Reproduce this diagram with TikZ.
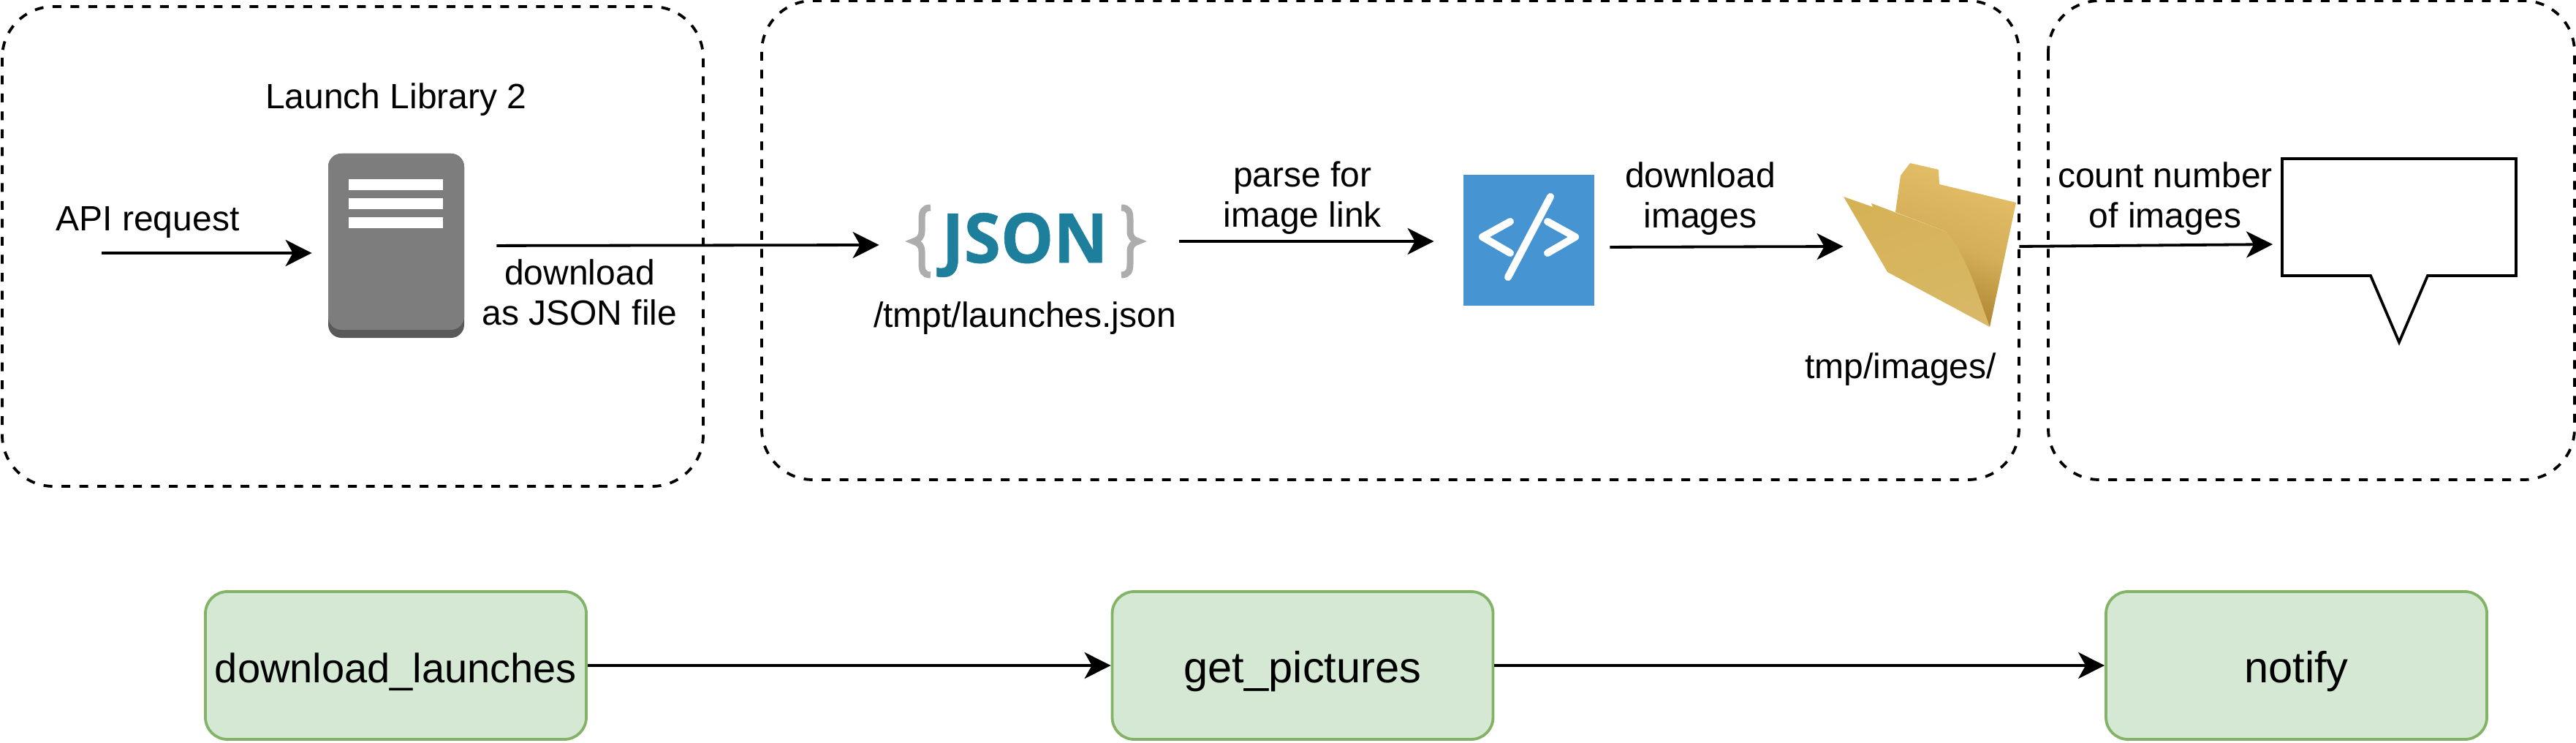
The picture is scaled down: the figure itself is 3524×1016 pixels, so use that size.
\documentclass[tikz,border=0pt]{standalone}
\usepackage{fontspec}
\setmainfont{Liberation Sans}
\newfontfamily\logofont[FakeStretch = 0.97, FakeBold = 0.6]{Open Sans}
\usepackage{tikz}
\usetikzlibrary{calc, arrows.meta, shapes.callouts}

\definecolor{serverface}{HTML}{7D7D7D}
\definecolor{serverbase}{HTML}{595959}
\definecolor{jsonblue}{HTML}{1D7F9C}
\definecolor{jsongrey}{HTML}{ADADAD}
\definecolor{codeblue}{HTML}{4695D2}
\definecolor{taskfill}{HTML}{D5E8D4}
\definecolor{taskline}{HTML}{82B366}
\definecolor{foldertop}{HTML}{E4C068}
\definecolor{foldermid}{HTML}{D4AE58}
\definecolor{folderdark}{HTML}{A87F2E}
\definecolor{flapleft}{HTML}{D6B257}
\definecolor{flapright}{HTML}{D8B866}

\tikzset{
	flow/.style = {line width = 1.9pt, -{Stealth[length = 18pt, width = 18pt, inset = 5pt]}},
	group/.style = {draw, line width = 1.9pt, dash pattern = on 6pt off 6.25pt, rounded corners = 35pt},
	task/.style = {draw = taskline, fill = taskfill, line width = 1.9pt, rounded corners = 15pt, minimum width = 260.5pt, minimum height = 101pt, inner sep = 0pt, text height = 23pt, text depth = 0pt, font = \fontsize{29.8}{34}\selectfont},
	label/.style = {align = center, inner sep = 0pt, font = \fontsize{24}{27.5}\selectfont},
	jsonbrace/.pic = {
		\draw [jsongrey, line width = 4.5pt] (-30,-46) .. controls (-40,-46) and (-42,-40) .. (-42,-30) -- (-42,-14) .. controls (-42,-6) and (-46,-2) .. (-53,0) .. controls (-46,2) and (-42,6) .. (-42,14) -- (-42,30) .. controls (-42,40) and (-40,46) .. (-30,46);
	}
}

\begin{document}
\begin{tikzpicture}[x = 0.5pt, y = -0.5pt]
	\useasboundingbox (0,0) rectangle (3524,1016);
	
	% dashed groups
	\draw [group] (3,9) rectangle (962,665);
	\draw [group] (1042,1) rectangle (2762,656);
	\draw [group] (2802,1) rectangle (3522,656);
	
	% server
	\node (server) at (542,336) [fill = serverbase, rounded corners = 9pt, minimum width = 93pt, minimum height = 126pt, inner sep = 0pt] {};
	\fill [serverface, rounded corners = 9pt] (449,210) rectangle (635,451);
	\foreach \y in {245,271,297}
		\fill [white] (477,\y) rectangle (606,\y+15);
	
	% json logo
	\node (json) at (1402,335) [minimum width = 199pt, minimum height = 50pt, inner sep = 0pt, text = jsonblue, font = \logofont\bfseries\fontsize{47}{47}\selectfont] {JSON};
	\pic at (1303,330) {jsonbrace};
	\pic [xscale = -1] at (1504,330) {jsonbrace};
	
	% code icon
	\node (code) at (2091.5,328.5) [fill = codeblue, minimum width = 89.5pt, minimum height = 89.5pt, inner sep = 0pt] {};
	\begin{scope}[white, line width = 5pt, line cap = round, line join = round]
		\draw (2066,303) -- (2028,324) -- (2066,346);
		\draw (2117,303) -- (2155,324) -- (2117,346);
		\draw (2121,269) -- (2063,379);
	\end{scope}
	
	% folder
	\node (folder) at (2642,337) [minimum width = 120pt, minimum height = 114pt, inner sep = 0pt] {};
	\shade [top color = foldertop, bottom color = folderdark, middle color = foldermid, shading angle = -20] (2593,290) -- (2600,240) -- (2613,223) -- (2652,232) -- (2653,252) -- (2758,277) -- (2722,447) -- (2663,317) -- cycle;
	\shade [left color = flapleft, right color = flapright, shading angle = 20] (2522,269) -- (2562,283) -- (2560,278) -- (2663,317) .. controls (2690,350) and (2705,400) .. (2722,447) -- (2582,372) -- cycle;
	
	% notification
	\node (message) at (3282,297) [rectangle callout, draw, line width = 1.9pt, minimum width = 160pt, minimum height = 80pt, inner sep = 0pt, callout absolute pointer = {(3282,468)}, callout pointer width = 39pt] {};
	
	% tasks
	\node [task, font = \fontsize{28}{34}\selectfont] (download task) at (541.5,910) {download\_launches};
	\node [task] (pictures task) at (1782,910) {get\_pictures};
	\node [task] (notify task) at (3141.5,910) {notify};
	
	% labels
	\node [label] (server label) at (542,136) {Launch Library 2};
	\node [label] (api label) at (202,304) {API request};
	\node [label] (download label) at (793,400) {download\\as JSON file};
	\node [label] (json label) at (1402,435) {/tmpt/launches.json};
	\node [label] (parse label) at (1782,271) {parse for\\image link};
	\node [label] (images label) at (2326,272) {download\\images};
	\node [label] (folder label) at (2600,505) {tmp/images/};
	\node [label] (count label) at (2962,272) {count number\\of images};
	
	% connectors
	\coordinate (api start) at (139,346);
	\draw [flow, shorten > = 11pt] (api start) -- ([yshift = -5pt]server.west);
	\draw [flow, shorten < = 22pt] (server.east) -- (json.west);
	\draw [flow] ([xshift = 6pt, yshift = 2.5pt]json.east) -- ([xshift = -20pt, yshift = -0.75pt]code.west);
	\draw [flow, shorten < = 10.5pt] ([yshift = -4.75pt]code.east) -- (folder.west);
	\draw [flow, shorten > = 5.5pt] (folder.east) -- ([yshift = -18.5pt]message.west);
	\draw [flow] (download task) -- (pictures task);
	\draw [flow] (pictures task) -- (notify task);
\end{tikzpicture}
\end{document}
